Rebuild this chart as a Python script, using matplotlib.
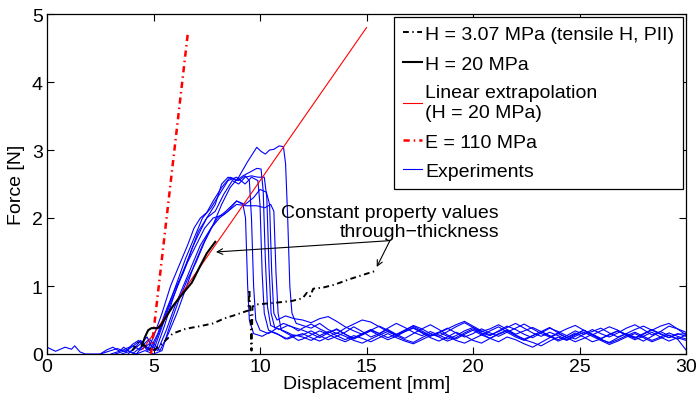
import matplotlib
matplotlib.use("Agg")
import matplotlib.pyplot as plt

plt.rcParams['font.family'] = ['Liberation Sans', 'DejaVu Sans']

# ---- model curves ----
h307_x = [4.0, 4.3, 4.6, 5.0, 5.4, 5.9, 6.5, 7.2, 7.8, 8.3, 8.8, 9.45, 9.5, 9.55,
          9.6, 9.65, 9.9, 10.6, 11.5, 12.0, 12.2, 12.35, 12.5, 13.0, 13.5, 14.2, 15.4]
h307_y = [0.05, 0.18, 0.12, 0.05, 0.15, 0.30, 0.37, 0.41, 0.45, 0.52, 0.57, 0.64, 0.95, 0.60,
          0.05, 0.70, 0.73, 0.75, 0.78, 0.82, 0.90, 0.85, 0.96, 0.98, 1.02, 1.10, 1.22]

h20_x = [4.45, 4.6, 4.75, 4.9, 5.2, 5.35, 5.5, 5.9, 6.3, 6.8, 7.2, 7.5, 7.9]
h20_y = [0.12, 0.25, 0.35, 0.38, 0.38, 0.42, 0.50, 0.70, 0.86, 1.05, 1.30, 1.48, 1.65]

lin_x = [4.5, 15.0]
lin_y = [0.07, 4.80]

e110_x = [4.88, 6.62]
e110_y = [0.0, 4.74]

# ---- experiments: loading part (up to failure) ----
exp_head = [
    ([0.0, 0.4, 0.85, 1.15, 1.3, 1.55, 1.8, 2.5, 2.8, 3.1, 3.4, 3.6, 3.9, 4.2, 4.6, 5.0,
      5.4, 5.8, 6.2, 6.6, 7.0, 7.4, 7.8, 8.2, 8.6, 9.0, 9.4, 9.85, 10.05, 10.25, 10.45,
      10.65, 10.9, 11.1, 11.2, 11.3, 11.4, 11.5, 11.7],
     [0.10, 0.04, 0.10, 0.07, 0.12, 0.03, 0.0, 0.0, 0.06, 0.10, 0.04, 0.10, 0.03, 0.0, 0.05, 0.0,
      0.05, 0.45, 0.80, 1.10, 1.35, 1.65, 1.90, 2.20, 2.45, 2.60, 2.82, 3.04, 2.98, 2.94, 3.00,
      3.01, 3.06, 3.05, 2.80, 2.00, 1.00, 0.60, 0.45]),
    ([2.5, 2.9, 3.3, 3.7, 4.0, 4.3, 4.6, 4.8, 5.2, 5.6, 6.0, 6.4, 6.8, 7.1, 7.5, 7.9, 8.2,
      8.5, 8.9, 9.2, 9.5, 9.85, 10.05, 10.15, 10.25, 10.35, 10.5, 10.9, 11.3, 11.7],
     [0.0, 0.04, 0.08, 0.03, 0.14, 0.20, 0.12, 0.05, 0.30, 0.65, 0.95, 1.20, 1.55, 1.75, 2.00, 2.20, 2.50,
      2.60, 2.55, 2.62, 2.67, 2.73, 2.72, 2.40, 1.40, 0.70, 0.42, 0.36, 0.42, 0.38]),
    ([3.8, 4.1, 4.4, 4.6, 4.7, 5.0, 5.4, 5.8, 6.2, 6.6, 6.9, 7.2, 7.5, 7.8, 8.2, 8.6, 9.0,
      9.3, 9.5, 9.6, 9.7, 9.8, 10.0, 10.4, 10.8, 11.2, 11.6],
     [0.0, 0.08, 0.20, 0.10, 0.05, 0.25, 0.60, 1.00, 1.30, 1.60, 1.85, 2.00, 2.08, 2.25, 2.45, 2.60, 2.55,
      2.62, 2.55, 2.00, 1.00, 0.50, 0.35, 0.30, 0.38, 0.33, 0.27]),
    ([3.0, 3.5, 4.0, 4.4, 4.8, 5.0, 5.2, 5.6, 6.0, 6.4, 6.8, 7.2, 7.6, 8.0, 8.4, 8.9, 9.2,
      9.32, 9.42, 9.5, 9.7, 10.1, 10.5, 10.9, 11.3, 11.7],
     [0.0, 0.05, 0.12, 0.06, 0.15, 0.10, 0.05, 0.35, 0.70, 1.00, 1.30, 1.60, 1.80, 2.00, 2.10, 2.25, 2.20,
      2.00, 1.00, 0.50, 0.30, 0.26, 0.33, 0.28, 0.22, 0.27]),
    ([4.0, 4.4, 4.8, 5.1, 5.3, 5.7, 6.1, 6.5, 6.9, 7.3, 7.7, 8.1, 8.5, 8.9, 9.3, 9.7, 10.0,
      10.3, 10.45, 10.55, 10.65, 10.8, 11.2, 11.6],
     [0.0, 0.10, 0.22, 0.12, 0.05, 0.30, 0.60, 0.95, 1.30, 1.60, 1.85, 2.00, 2.10, 2.25, 2.20, 2.30, 2.42,
      2.38, 2.20, 1.20, 0.60, 0.50, 0.56, 0.52]),
    ([3.5, 4.0, 4.4, 4.7, 5.0, 5.4, 5.8, 6.2, 6.6, 7.0, 7.4, 7.8, 8.3, 8.9, 9.37, 9.85,
      10.23, 10.5, 10.65, 10.75, 10.85, 11.0, 11.4, 11.8],
     [0.0, 0.05, 0.15, 0.25, 0.05, 0.40, 0.75, 1.05, 1.35, 1.60, 1.85, 2.00, 2.05, 2.20, 2.18, 2.18,
      2.15, 2.20, 2.10, 1.20, 0.60, 0.35, 0.28, 0.20]),
    ([4.2, 4.5, 4.9, 5.3, 5.7, 6.1, 6.5, 6.9, 7.3, 7.7, 8.1, 8.5, 8.9, 9.3, 9.6, 9.9, 10.0,
      10.1, 10.2, 10.4, 10.8, 11.2, 11.6],
     [0.0, 0.12, 0.05, 0.35, 0.70, 1.05, 1.40, 1.70, 2.00, 2.15, 2.35, 2.55, 2.60, 2.50, 2.60, 2.55, 2.20,
      1.20, 0.60, 0.35, 0.30, 0.22, 0.28]),
    ([3.2, 3.8, 4.3, 4.7, 5.1, 5.5, 5.9, 6.3, 6.7, 7.1, 7.5, 7.9, 8.3, 8.7, 9.0, 9.3, 9.6,
      9.9, 10.2, 10.32, 10.42, 10.52, 10.7, 11.1, 11.5, 11.8],
     [0.0, 0.06, 0.18, 0.10, 0.05, 0.40, 0.80, 1.15, 1.45, 1.80, 2.00, 2.10, 2.35, 2.55, 2.50, 2.60, 2.62,
      2.60, 2.60, 2.30, 1.30, 0.60, 0.38, 0.45, 0.40, 0.34]),
]

# ---- experiments: post-failure residual force ----
tail_x = [12.0, 12.4, 12.8, 13.2, 13.6, 14.0, 14.4, 14.8, 15.2, 15.6,
          16.0, 16.4, 16.8, 17.2, 17.6, 18.0, 18.4, 18.8, 19.2, 19.6,
          20.0, 20.4, 20.8, 21.2, 21.6, 22.0, 22.4, 22.8, 23.2, 23.6,
          24.0, 24.4, 24.8, 25.2, 25.6, 26.0, 26.4, 26.8, 27.2, 27.6,
          28.0, 28.4, 28.8, 29.2, 29.6, 30.0]

exp_tail = [
    [0.42, 0.38, 0.45, 0.36, 0.30, 0.38, 0.44, 0.50, 0.47, 0.40,
     0.33, 0.28, 0.35, 0.42, 0.37, 0.30, 0.26, 0.33, 0.40, 0.46,
     0.39, 0.31, 0.27, 0.34, 0.41, 0.36, 0.29, 0.24, 0.31, 0.38,
     0.33, 0.27, 0.22, 0.29, 0.36, 0.30, 0.25, 0.31, 0.38, 0.43,
     0.36, 0.28, 0.33, 0.41, 0.37, 0.32],
    [0.35, 0.30, 0.24, 0.31, 0.37, 0.29, 0.22, 0.28, 0.34, 0.27,
     0.21, 0.26, 0.33, 0.38, 0.31, 0.24, 0.19, 0.25, 0.32, 0.27,
     0.20, 0.16, 0.23, 0.30, 0.35, 0.28, 0.22, 0.27, 0.33, 0.26,
     0.19, 0.24, 0.31, 0.25, 0.18, 0.22, 0.29, 0.34, 0.27, 0.21,
     0.26, 0.32, 0.25, 0.19, 0.24, 0.20],
    [0.28, 0.34, 0.27, 0.21, 0.26, 0.32, 0.40, 0.33, 0.25, 0.30,
     0.36, 0.29, 0.23, 0.30, 0.37, 0.43, 0.36, 0.28, 0.22, 0.29,
     0.35, 0.28, 0.34, 0.40, 0.32, 0.25, 0.20, 0.27, 0.33, 0.39,
     0.31, 0.24, 0.29, 0.35, 0.28, 0.21, 0.17, 0.24, 0.30, 0.25,
     0.19, 0.26, 0.33, 0.27, 0.22, 0.28],
    [0.30, 0.24, 0.19, 0.25, 0.31, 0.26, 0.20, 0.16, 0.22, 0.28,
     0.33, 0.27, 0.21, 0.17, 0.24, 0.30, 0.25, 0.19, 0.24, 0.31,
     0.37, 0.30, 0.23, 0.18, 0.25, 0.21, 0.15, 0.10, 0.17, 0.24,
     0.30, 0.24, 0.18, 0.23, 0.29, 0.22, 0.16, 0.21, 0.27, 0.32,
     0.26, 0.20, 0.25, 0.31, 0.26, 0.22],
    [0.50, 0.46, 0.52, 0.55, 0.48, 0.40, 0.34, 0.29, 0.35, 0.41,
     0.35, 0.28, 0.33, 0.39, 0.32, 0.26, 0.31, 0.37, 0.43, 0.48,
     0.41, 0.34, 0.28, 0.33, 0.39, 0.45, 0.38, 0.31, 0.26, 0.32,
     0.27, 0.21, 0.28, 0.35, 0.29, 0.23, 0.28, 0.34, 0.29, 0.24,
     0.30, 0.36, 0.30, 0.24, 0.29, 0.30],
    [0.22, 0.28, 0.34, 0.29, 0.23, 0.18, 0.24, 0.30, 0.36, 0.30,
     0.24, 0.29, 0.35, 0.41, 0.34, 0.27, 0.32, 0.38, 0.31, 0.25,
     0.30, 0.37, 0.31, 0.26, 0.32, 0.38, 0.44, 0.37, 0.30, 0.25,
     0.31, 0.37, 0.42, 0.35, 0.28, 0.34, 0.40, 0.35, 0.28, 0.23,
     0.29, 0.35, 0.41, 0.45, 0.37, 0.28],
    [0.25, 0.20, 0.27, 0.33, 0.27, 0.21, 0.27, 0.23, 0.18, 0.24,
     0.30, 0.24, 0.19, 0.15, 0.21, 0.27, 0.32, 0.26, 0.20, 0.16,
     0.22, 0.28, 0.23, 0.29, 0.34, 0.27, 0.21, 0.17, 0.12, 0.19,
     0.25, 0.20, 0.26, 0.32, 0.26, 0.20, 0.14, 0.19, 0.25, 0.30,
     0.24, 0.18, 0.23, 0.28, 0.22, 0.06],
    [0.38, 0.44, 0.37, 0.31, 0.36, 0.29, 0.23, 0.29, 0.35, 0.30,
     0.38, 0.45, 0.39, 0.32, 0.27, 0.33, 0.28, 0.22, 0.27, 0.34,
     0.39, 0.33, 0.37, 0.43, 0.36, 0.29, 0.34, 0.39, 0.33, 0.27,
     0.21, 0.27, 0.34, 0.29, 0.33, 0.38, 0.31, 0.25, 0.30, 0.36,
     0.41, 0.35, 0.29, 0.24, 0.30, 0.26],
]

x_ticks = [0, 5, 10, 15, 20, 25, 30]
y_ticks = [0, 1, 2, 3, 4, 5]

FS = 14

fig = plt.figure(figsize=(7.0, 4.02), dpi=100)
ax = fig.add_axes([47 / 700, 47 / 402, 639 / 700, 340 / 402])

exp_handle = None
for (hx, hy), ty in zip(exp_head, exp_tail):
    line, = ax.plot(hx + tail_x, hy + ty, color='#0000ff', lw=0.8, zorder=2)
    exp_handle = line

h_lin, = ax.plot(lin_x, lin_y, color='#ff0000', lw=0.8, zorder=3)
h_e, = ax.plot(e110_x, e110_y, color='#ff0000', lw=1.8,
               ls=(0, (2.5, 1.6, 0.6, 1.6)), zorder=3)
h_307, = ax.plot(h307_x, h307_y, color='black', lw=1.4,
                 ls=(0, (3.0, 1.8, 0.7, 1.8)), zorder=4)
h_20, = ax.plot(h20_x, h20_y, color='black', lw=1.5, zorder=4)

ax.set_xlim(0, 30)
ax.set_ylim(0, 5)
ax.set_xticks(x_ticks)
ax.set_yticks(y_ticks)
ax.tick_params(direction='in', top=True, right=True, length=5, width=0.8,
               labelsize=FS, pad=3)
for s in ax.spines.values():
    s.set_linewidth(0.9)
ax.set_xlabel('Displacement [mm]', fontsize=FS, labelpad=0)
ax.set_ylabel('Force [N]', fontsize=FS, labelpad=5)

ax.text(21.22, 1.94, 'Constant property values\nthrough\u2212thickness',
        ha='right', va='center', multialignment='right', fontsize=FS,
        linespacing=1.2)
arrow_kw = dict(arrowstyle='->', color='black', lw=0.8, mutation_scale=10,
                shrinkA=0, shrinkB=0)
ax.annotate('', xy=(7.93, 1.50), xytext=(16.1, 1.667), arrowprops=arrow_kw)
ax.annotate('', xy=(15.48, 1.28), xytext=(16.1, 1.667), arrowprops=arrow_kw)

leg = ax.legend([h_307, h_20, h_lin, h_e, exp_handle],
                ['H = 3.07 MPa (tensile H, PII)', 'H = 20 MPa',
                 'Linear extrapolation\n(H = 20 MPa)', 'E = 110 MPa', 'Experiments'],
                loc='upper right', fontsize=FS, handlelength=1.0, handletextpad=0.15,
                borderpad=0.45, labelspacing=0.6, borderaxespad=0.15,
                fancybox=False, framealpha=1, edgecolor='black')
leg.get_frame().set_linewidth(0.9)
for t in leg.get_texts():
    t.set_linespacing(1.25)

fig.savefig('out.png', dpi=100)
